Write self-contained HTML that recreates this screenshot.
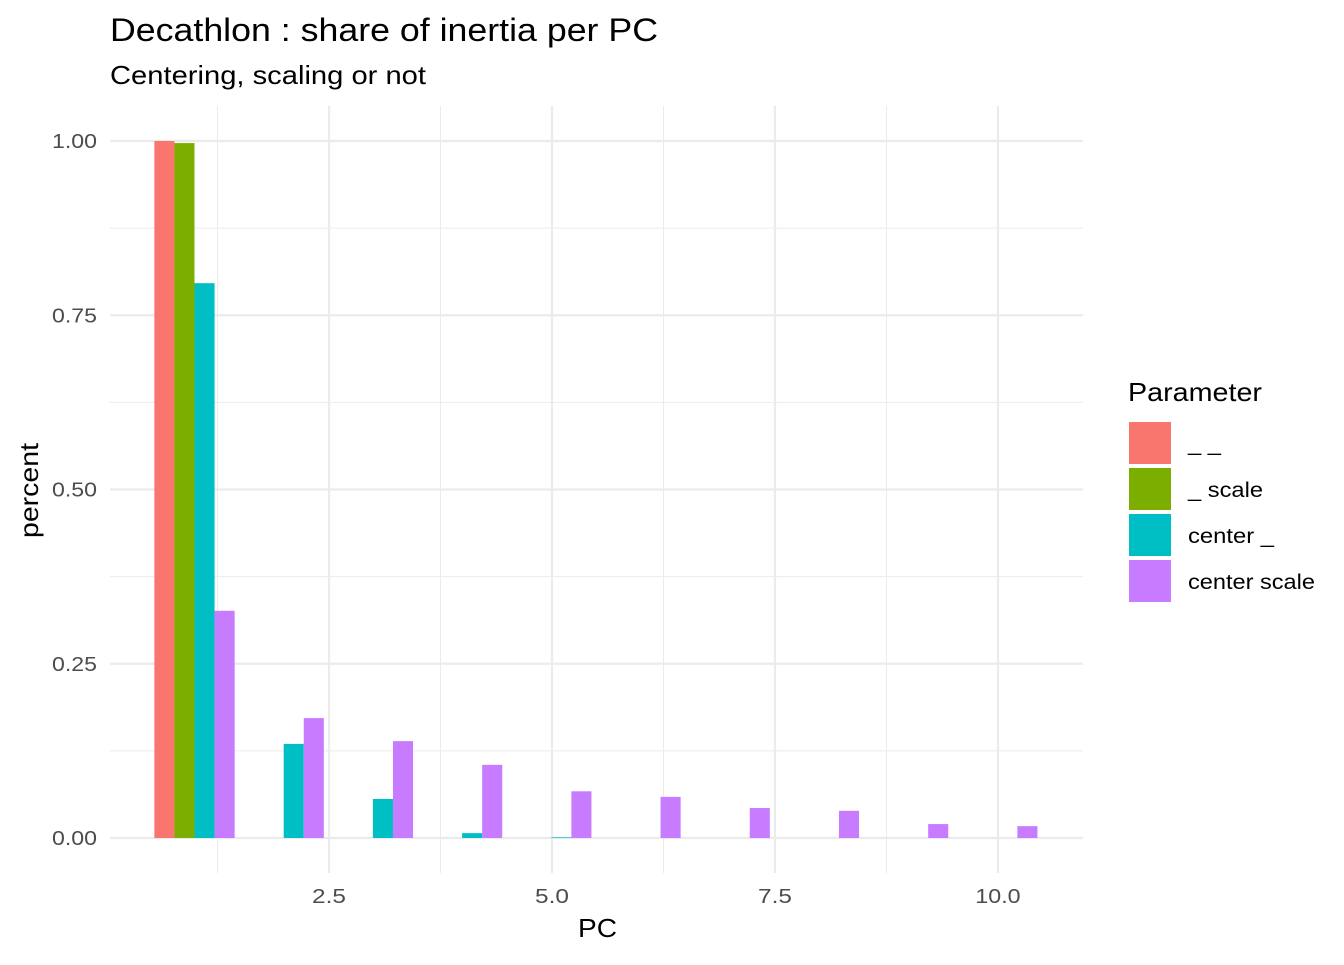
<!DOCTYPE html>
<html><head><meta charset="utf-8"><style>
body{margin:0;background:#fff;font-family:"Liberation Sans",sans-serif;}
</style></head><body>
<svg id="chart" width="1344" height="960" xmlns="http://www.w3.org/2000/svg" font-family="Liberation Sans, sans-serif">
<text x="110" y="41" font-size="32" fill="#000" textLength="548" lengthAdjust="spacingAndGlyphs">Decathlon : share of inertia per PC</text>
<text x="110" y="84" font-size="26" fill="#000" textLength="316" lengthAdjust="spacingAndGlyphs">Centering, scaling or not</text>
<g id="grid"></g>
<g id="bars"></g>
<g id="axes"></g>
<text x="578" y="937" font-size="26" textLength="39" lengthAdjust="spacingAndGlyphs">PC</text>
<text transform="translate(38,538) rotate(-90)" font-size="26" textLength="95" lengthAdjust="spacingAndGlyphs">percent</text>
<g id="legend"></g>
</svg>
<script>
const pcs=[1,2,3,4,5,6,7,8,9,10];
const seriesNames=["_ _","_ scale","center _","center scale"];
const colors=["#F8766D","#7CAE00","#00BFC4","#C77CFF"];
const valsNone=[1.0,0,0,0,0,0,0,0,0,0];
const valsScale=[0.997,0,0,0,0,0,0,0,0,0];
const valsCenter=[0.796,0.135,0.056,0.007,0.001,0,0,0,0,0];
const valsCS=[0.326,0.172,0.139,0.105,0.067,0.059,0.043,0.039,0.020,0.017];
const xTicks=[2.5,5.0,7.5,10.0];
const xTickLabels=["2.5","5.0","7.5","10.0"];
const yTicks=[0,0.25,0.5,0.75,1.0];
const yTickLabels=["0.00","0.25","0.50","0.75","1.00"];
const legendWidths=[33,75,86,127];
const NS="http://www.w3.org/2000/svg";
const X=v=>329+(v-2.5)*89.2;
const Y=v=>838-v*697;
const L=110,R=1083,T=106,B=873;
function mk(tag,attrs,parent){const e=document.createElementNS(NS,tag);for(const k in attrs)e.setAttribute(k,attrs[k]);parent.appendChild(e);return e;}
const grid=document.getElementById('grid');
for(const v of [0.125,0.375,0.625,0.875]){const l=mk('line',{x1:L,x2:R,y1:Y(v),y2:Y(v),stroke:'#EBEBEB','stroke-width':1},grid);}
for(const v of [1.25,3.75,6.25,8.75]){const l=mk('line',{x1:X(v),x2:X(v),y1:T,y2:B,stroke:'#EBEBEB','stroke-width':1},grid);}
yTicks.forEach((v,i)=>{const l=mk('line',{x1:L,x2:R,y1:Y(v),y2:Y(v),stroke:'#EBEBEB','stroke-width':2.2},grid);
const t=mk('text',{x:52,y:Y(v)+7,'font-size':20,fill:'#4D4D4D',textLength:45,lengthAdjust:'spacingAndGlyphs'},document.getElementById('axes'));t.textContent=yTickLabels[i];});
xTicks.forEach((v,i)=>{const l=mk('line',{x1:X(v),x2:X(v),y1:T,y2:B,stroke:'#EBEBEB','stroke-width':2.2},grid);
const w=xTickLabels[i].length*11.3;
const t=mk('text',{x:X(v)-w/2,y:903,'font-size':20,fill:'#4D4D4D',textLength:w,lengthAdjust:'spacingAndGlyphs'},document.getElementById('axes'));t.textContent=xTickLabels[i];});
const series=[valsNone,valsScale,valsCenter,valsCS];
const bw=0.9/4*89.2;
const bars=document.getElementById('bars');
series.forEach((vals,s)=>{pcs.forEach((pc,i)=>{const v=vals[i];if(v<=0)return;const x0=X(pc)-0.45*89.2+s*bw-0.7;
const r=mk('rect',{x:x0,y:Y(v),width:bw,height:Y(0)-Y(v),fill:colors[s]},bars);});});
const lg=document.getElementById('legend');
const lt=mk('text',{x:1128,y:401,'font-size':26,textLength:134,lengthAdjust:'spacingAndGlyphs'},lg);lt.textContent="Parameter";
seriesNames.forEach((n,i)=>{const y=422+i*46;const r=mk('rect',{x:1129,y:y,width:42,height:42,fill:colors[i]},lg);
const t=mk('text',{x:1188,y:y+29,'font-size':21,textLength:legendWidths[i],lengthAdjust:'spacingAndGlyphs'},lg);t.textContent=n;});
</script>
</body></html>
